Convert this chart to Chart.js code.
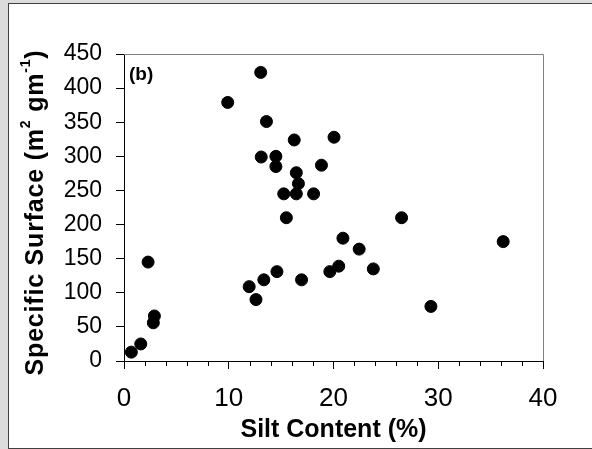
<!DOCTYPE html>
<html>
<head>
<meta charset="utf-8">
<script src="https://cdn.jsdelivr.net/npm/chart.js@4/dist/chart.umd.min.js"></script>
<style>
  html, body { margin: 0; padding: 0; width: 592px; height: 449px; overflow: hidden; background: #dcdcdc; }
  #panel { position: absolute; left: 8px; top: 3px; width: 600px; height: 444px; background: #fff; border: 1px solid #404040; }
  #c { position: absolute; left: 0; top: 0; }
</style>
</head>
<body>
<div id="panel"></div>
<canvas id="c" width="592" height="449"></canvas>
<script>
// Silt content (%) and specific surface (m2 g-1) of each soil sample
const siltContent = [0.7, 1.6, 2.8, 2.9, 2.3, 9.9, 11.95, 12.6, 13.05, 13.1, 13.35, 13.6, 14.5, 14.5, 14.6,
  15.25, 15.5, 16.25, 16.45, 16.65, 16.45, 16.95, 18.1, 18.85, 19.65, 20.05, 20.5, 20.9, 22.45, 23.8,
  26.5, 29.3, 36.2];
const specificSurface = [13, 25, 56, 66, 145, 379, 109, 90, 423, 299, 119, 351, 300, 285, 131,
  245, 210, 324, 276, 260, 245, 119, 245, 287, 131, 328, 139, 180, 164, 135,
  210, 80, 175];

// Axis tick labels
const xTickValues = [0, 10, 20, 30, 40];
const yTickValues = [0, 50, 100, 150, 200, 250, 300, 350, 400, 450];

// Texts
const panelLabel = '(b)';
const xTitle = 'Silt Content (%)';
const yTitleParts = [
  ['Specific Surface (m', false],
  ['2', true],
  [' gm', false],
  ['-1', true],
  [')', false]
];

const FONT = '"Liberation Sans", Arial, Helvetica, sans-serif';

const points = siltContent.map((x, i) => ({ x, y: specificSurface[i] }));

// Plot frame, minor ticks, panel label and axis titles
const decorations = {
  id: 'decorations',
  beforeDatasetsDraw(chart) {
    const { ctx, chartArea: a } = chart;
    ctx.save();
    // grey frame on top and right of the plot area
    ctx.strokeStyle = '#808080';
    ctx.lineWidth = 1;
    ctx.beginPath();
    ctx.moveTo(a.left, Math.round(a.top) + 0.5);
    ctx.lineTo(Math.round(a.right) + 0.5, Math.round(a.top) + 0.5);
    ctx.lineTo(Math.round(a.right) + 0.5, a.bottom);
    ctx.stroke();

    // short minor ticks on the x axis
    const xs = chart.scales.x;
    ctx.strokeStyle = '#000';
    ctx.beginPath();
    xs.ticks.forEach(t => {
      if (!xTickValues.includes(t.value)) {
        const px = Math.round(xs.getPixelForValue(t.value)) + 0.5;
        ctx.moveTo(px, a.bottom);
        ctx.lineTo(px, a.bottom + 5);
      }
    });
    ctx.stroke();

    ctx.fillStyle = '#000';
    ctx.textBaseline = 'alphabetic';

    // panel label
    ctx.font = 'bold 19px ' + FONT;
    ctx.textAlign = 'left';
    ctx.fillText(panelLabel, a.left + 5, a.top + 26);

    // x axis title
    ctx.font = 'bold 25px ' + FONT;
    ctx.textAlign = 'center';
    ctx.fillText(xTitle, (a.left + a.right) / 2, a.bottom + 76);

    // y axis title with superscripts
    const mainFont = 'bold 25px ' + FONT;
    const supFont = 'bold 14px ' + FONT;
    ctx.letterSpacing = '0.8px';
    let total = 0;
    const widths = yTitleParts.map(([txt, sup]) => {
      ctx.font = sup ? supFont : mainFont;
      const w = ctx.measureText(txt).width;
      total += w;
      return w;
    });
    ctx.translate(43, 212.5);
    ctx.rotate(-Math.PI / 2);
    ctx.textAlign = 'left';
    let xPos = -total / 2;
    yTitleParts.forEach(([txt, sup], i) => {
      ctx.font = sup ? supFont : mainFont;
      ctx.fillText(txt, xPos, sup ? -13 : 0);
      xPos += widths[i];
    });
    ctx.restore();
  }
};

new Chart(document.getElementById('c'), {
  type: 'scatter',
  data: {
    datasets: [{
      data: points,
      pointRadius: 6,
      pointHoverRadius: 6,
      pointBackgroundColor: '#000',
      pointBorderColor: '#000',
      pointBorderWidth: 1,
      clip: false
    }]
  },
  options: {
    responsive: false,
    animation: false,
    devicePixelRatio: 1,
    layout: { padding: { left: 0, top: 54, right: 49, bottom: 0 } },
    plugins: {
      legend: { display: false },
      tooltip: { enabled: false }
    },
    scales: {
      x: {
        type: 'linear',
        min: 0,
        max: 40,
        afterFit: s => { s.height = 88; },
        ticks: {
          stepSize: 2,
          autoSkip: false,
          maxRotation: 0,
          color: '#000',
          padding: 14,
          font: { family: FONT, size: 26 },
          callback: v => xTickValues.includes(v) ? String(v) : ''
        },
        grid: {
          drawOnChartArea: false,
          tickLength: 8,
          tickColor: ctx => (ctx.tick && xTickValues.includes(ctx.tick.value)) ? '#000' : 'rgba(0,0,0,0)'
        },
        border: { display: true, color: '#000', width: 1 }
      },
      y: {
        type: 'linear',
        min: 0,
        max: 450,
        afterFit: s => { s.width = 124; },
        ticks: {
          stepSize: 50,
          color: '#000',
          padding: 14,
          font: { family: FONT, size: 23 },
          callback: v => yTickValues.includes(v) ? String(v) : ''
        },
        grid: {
          drawOnChartArea: false,
          tickLength: 8,
          tickColor: '#000'
        },
        border: { display: true, color: '#000', width: 1 }
      }
    }
  },
  plugins: [decorations]
});
</script>
</body>
</html>
